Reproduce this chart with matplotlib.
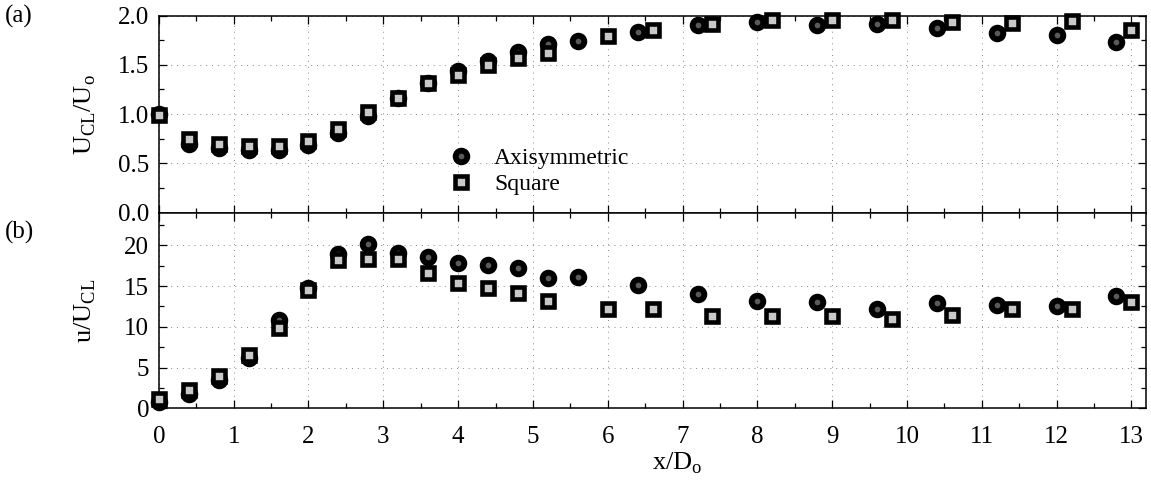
import matplotlib
matplotlib.use('Agg')
import matplotlib.pyplot as plt
from matplotlib.ticker import MultipleLocator, FormatStrFormatter

plt.rcParams['font.family'] = ['Liberation Serif', 'DejaVu Serif']
plt.rcParams['mathtext.fontset'] = 'custom'
plt.rcParams['mathtext.rm'] = 'Liberation Serif'

# x/Do stations
x_axi = [0, 0.4, 0.8, 1.2, 1.6, 2.0, 2.4, 2.8, 3.2, 3.6, 4.0, 4.4, 4.8, 5.2, 5.6,
         6.4, 7.2, 8.0, 8.8, 9.6, 10.4, 11.2, 12.0, 12.8]
x_sq = [0, 0.4, 0.8, 1.2, 1.6, 2.0, 2.4, 2.8, 3.2, 3.6, 4.0, 4.4, 4.8, 5.2,
        6.0, 6.6, 7.4, 8.2, 9.0, 9.8, 10.6, 11.4, 12.2, 13.0]

# (a) centreline velocity UCL/Uo
ucl_axi = [1.0, 0.70, 0.66, 0.64, 0.64, 0.685, 0.81, 0.98, 1.16, 1.32, 1.44, 1.54, 1.63, 1.71, 1.74,
           1.83, 1.90, 1.93, 1.90, 1.915, 1.875, 1.82, 1.80, 1.735]
ucl_sq = [0.99, 0.75, 0.70, 0.68, 0.68, 0.73, 0.85, 1.02, 1.16, 1.32, 1.40, 1.50, 1.565, 1.62,
          1.79, 1.855, 1.91, 1.95, 1.95, 1.955, 1.93, 1.92, 1.94, 1.855]

# (b) turbulence intensity u/UCL (%)
u_axi = [0.8, 1.75, 3.45, 6.2, 10.8, 14.8, 18.9, 20.1, 19.0, 18.6, 17.8, 17.6, 17.2, 16.0, 16.1,
         15.1, 14.0, 13.1, 13.05, 12.15, 12.9, 12.64, 12.5, 13.8]
u_sq = [1.1, 2.25, 3.95, 6.55, 9.85, 14.45, 18.15, 18.3, 18.3, 16.55, 15.4, 14.7, 14.2, 13.2,
        12.2, 12.2, 11.3, 11.26, 11.3, 11.0, 11.45, 12.2, 12.24, 13.05]

labels = ['Axisymmetric', 'Square']

fig = plt.figure(figsize=(11.51, 4.82), dpi=100)
ax_a = fig.add_axes([0.138, 0.5587, 0.858, 0.409])
ax_b = fig.add_axes([0.138, 0.153, 0.858, 0.4058])

circ = dict(marker='o', ls='none', ms=8.4, mew=4.2, mec='black', mfc='#5a5a5a', clip_on=False, zorder=3)
sq = dict(marker='s', ls='none', ms=8.2, mew=3.3, mec='black', mfc='#c8c8c8', clip_on=False, zorder=4)

ax_a.plot(x_axi, ucl_axi, label=labels[0], **circ)
ax_a.plot(x_sq, ucl_sq, label=labels[1], **sq)
ax_b.plot(x_axi, u_axi, **circ)
ax_b.plot(x_sq, u_sq, **sq)

for ax in (ax_a, ax_b):
    ax.set_xlim(0, 13.2)
    ax.xaxis.set_major_locator(MultipleLocator(1))
    ax.xaxis.set_minor_locator(MultipleLocator(0.5))
    ax.tick_params(which='both', direction='in', top=True, right=True, labelsize=18, width=0.9)
    ax.tick_params(which='major', length=6)
    ax.tick_params(which='minor', length=3.5)
    ax.tick_params(axis='x', pad=13)
    ax.tick_params(axis='y', pad=7)
    ax.grid(True, which='major', color='#888888', lw=0.7, ls=(0, (1, 5)))
    for s in ax.spines.values():
        s.set_linewidth(1.1)

ax_a.set_ylim(0, 2.0)
ax_a.yaxis.set_major_locator(MultipleLocator(0.5))
ax_a.yaxis.set_minor_locator(MultipleLocator(0.25))
ax_a.yaxis.set_major_formatter(FormatStrFormatter('%.1f'))
ax_a.tick_params(axis='x', labelbottom=False)
ax_a.set_ylabel(r'U$_\mathregular{CL}$/U$_\mathregular{o}$', fontsize=19)
ax_a.yaxis.set_label_coords(-0.062, 0.5)

ax_b.set_ylim(0, 24)
ax_b.yaxis.set_major_locator(MultipleLocator(5))
ax_b.yaxis.set_minor_locator(MultipleLocator(2.5))
ax_b.set_ylabel(r'u/U$_\mathregular{CL}$', fontsize=19)
ax_b.yaxis.set_label_coords(-0.062, 0.5)
ax_b.set_xlabel(r'x/D$_\mathregular{o}$', fontsize=19)
ax_b.xaxis.set_label_coords(0.525, -0.215)

ax_a.legend(loc='center left', bbox_to_anchor=(0.294, 0.209), frameon=False, fontsize=17,
            borderpad=0, borderaxespad=0, handlelength=1, handletextpad=0.9, labelspacing=0.2)

fig.text(0.004, 1 - 16 / 482, '(a)', fontsize=18, va='center')
fig.text(0.004, 1 - 232 / 482, '(b)', fontsize=18, va='center')

fig.savefig('out.png', dpi=100)
